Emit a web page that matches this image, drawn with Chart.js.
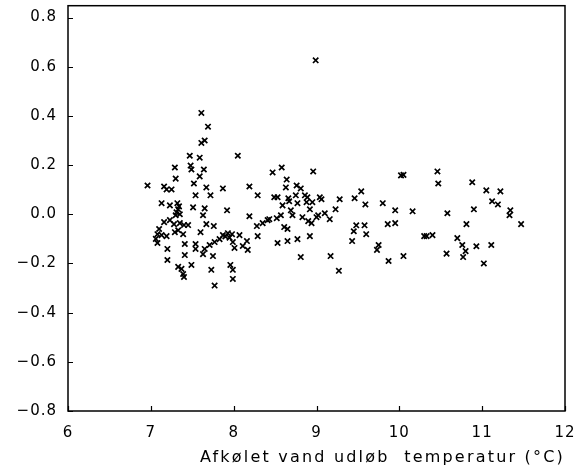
<!DOCTYPE html>
<html>
<head>
<meta charset="utf-8">
<script src="https://cdn.jsdelivr.net/npm/chart.js@4/dist/chart.umd.min.js"></script>
<style>
html,body{margin:0;padding:0;background:#fff;}
#wrap{width:583px;height:475px;}
</style>
</head>
<body>
<div id="wrap"><canvas id="c" width="583" height="475"></canvas></div>
<script>
const xTitle = "Afkølet vand udløb  temperatur (°C)";
const xTickValues = [6, 7, 8, 9, 10, 11, 12];
const yTickValues = [-0.8, -0.6, -0.4, -0.2, 0.0, 0.2, 0.4, 0.6, 0.8];

const tempX = [
  8.99,
  7.61, 7.69, 7.65, 7.61, 7.47, 7.59, 7.29, 7.48, 7.49, 7.64, 7.30, 7.59, 7.52, 6.96, 7.16, 7.19, 7.25, 7.67, 7.54,
  7.13, 7.23, 7.34, 7.31, 7.30, 7.33, 7.35, 7.32, 7.51, 7.65, 7.63, 7.16, 7.23, 7.28, 7.35, 7.40, 7.45, 7.67,
  7.08, 7.13, 7.19, 7.29, 7.33, 7.39, 7.60, 7.08, 7.41, 7.20, 7.54, 7.54, 7.65, 7.41, 7.63, 7.20, 7.33, 7.37,
  7.49, 7.40, 7.39, 7.06, 7.10,
  8.05, 7.72, 7.87, 8.19, 8.29, 7.92, 8.19, 7.76, 8.52, 8.41, 8.35, 8.28, 8.53, 7.83, 7.87, 7.93, 7.98, 7.77,
  7.71, 7.75, 7.99, 8.01, 8.07, 8.16, 8.11, 8.17, 8.29, 7.96, 7.99, 7.99, 7.73, 7.77, 7.90, 7.95,
  8.47, 8.58, 8.96, 8.64, 8.63, 8.76, 8.81, 8.49, 8.53, 8.66, 8.67, 8.75, 8.77, 8.86, 8.89, 8.88, 8.95, 9.04,
  9.06, 9.28, 9.46, 8.59, 8.92, 9.23, 8.69, 8.71, 9.10, 8.57, 8.43, 8.83, 8.90, 8.94, 9.00, 9.02, 9.16, 8.61,
  8.65, 8.65, 8.77, 8.92, 8.81, 9.17, 9.27, 9.48, 9.45, 9.43,
  10.02, 10.05, 10.46, 10.47, 9.54, 9.59, 9.80, 9.95, 10.16, 10.58, 9.58, 9.86, 9.95, 9.60, 10.30, 10.33,
  10.40, 10.70, 9.75, 9.73, 9.87, 10.05, 10.57,
  10.88, 11.05, 11.22, 11.12, 11.19, 11.34, 11.33, 10.90, 11.47, 10.81, 10.76, 10.93, 11.11, 10.80, 10.77, 11.02
];
const residualY = [
  0.626,
  0.412, 0.356, 0.300, 0.290, 0.238, 0.230, 0.190, 0.198, 0.182, 0.182, 0.145, 0.154, 0.125, 0.117, 0.113, 0.101, 0.101, 0.109, 0.077,
  0.045, 0.036, 0.032, 0.008, -0.004, 0.020, 0.000, 0.045, 0.028, 0.024, -0.004, -0.032, -0.024, -0.040, -0.036, -0.044, -0.044, -0.040,
  -0.081, -0.085, -0.089, -0.073, -0.065, -0.081, -0.073, -0.117, -0.121, -0.141, -0.121, -0.141, -0.141, -0.166, -0.162, -0.186, -0.214, -0.222,
  -0.206, -0.255, -0.243, -0.100, -0.060,
  0.238, 0.077, 0.105, 0.113, 0.077, 0.016, -0.008, -0.048, -0.016, -0.024, -0.036, -0.048, -0.117, -0.101, -0.085, -0.077, -0.081, -0.113,
  -0.125, -0.170, -0.113, -0.137, -0.085, -0.109, -0.129, -0.145, -0.089, -0.206, -0.226, -0.263, -0.226, -0.290, -0.090, -0.095,
  0.170, 0.190, 0.174, 0.141, 0.109, 0.117, 0.105, 0.069, 0.069, 0.065, 0.053, 0.077, 0.045, 0.077, 0.069, 0.049, 0.049, 0.069,
  0.061, 0.061, 0.065, 0.036, 0.020, 0.020, 0.016, -0.004, 0.004, -0.004, -0.020, -0.012, -0.028, -0.036, -0.012, -0.004, -0.020, -0.052,
  -0.060, -0.109, -0.101, -0.089, -0.174, -0.170, -0.230, -0.045, -0.069, -0.109,
  0.158, 0.160, 0.174, 0.125, 0.093, 0.040, 0.045, 0.016, 0.012, 0.004, -0.045, -0.040, -0.036, -0.081, -0.089, -0.089,
  -0.085, -0.097, -0.125, -0.145, -0.190, -0.170, -0.160,
  0.130, 0.097, 0.093, 0.053, 0.040, 0.016, -0.004, 0.020, -0.040, -0.040, -0.125, -0.130, -0.125, -0.150, -0.174, -0.200
];

const points = tempX.map((x, i) => ({ x: x, y: residualY[i] }));

const textSpacing = {
  id: 'textSpacing',
  beforeDraw(chart) {
    const ctx = chart.ctx;
    if ('letterSpacing' in ctx) ctx.letterSpacing = '1px';
    const xs = chart.scales.x;
    if (xs && !xs._spacedTitle) {
      const orig = xs.drawTitle.bind(xs);
      xs.drawTitle = function () {
        const prev = ctx.letterSpacing;
        if ('letterSpacing' in ctx) ctx.letterSpacing = '2.2px';
        orig();
        if ('letterSpacing' in ctx) ctx.letterSpacing = prev;
      };
      xs._spacedTitle = true;
    }
  }
};

const frameAndTicks = {
  id: 'frameAndTicks',
  afterDraw(chart) {
    const ctx = chart.ctx;
    const a = chart.chartArea;
    const xs = chart.scales.x, ys = chart.scales.y;
    ctx.save();
    ctx.strokeStyle = '#000';
    ctx.lineWidth = 1.5;
    ctx.strokeRect(a.left, a.top, a.right - a.left, a.bottom - a.top);
    ctx.lineWidth = 1.2;
    ctx.beginPath();
    xTickValues.forEach(v => {
      const px = Math.round(xs.getPixelForValue(v)) + 0.5;
      ctx.moveTo(px, a.bottom);
      ctx.lineTo(px, a.bottom - 5);
    });
    yTickValues.forEach(v => {
      const py = Math.round(ys.getPixelForValue(v)) + 0.5;
      ctx.moveTo(a.left, py);
      ctx.lineTo(a.left + 5, py);
    });
    ctx.stroke();
    ctx.restore();
  }
};

const tickFont = { family: "'DejaVu Sans', sans-serif", size: 15 };

new Chart(document.getElementById('c'), {
  type: 'scatter',
  data: {
    datasets: [{
      data: points,
      pointStyle: 'crossRot',
      pointRadius: 3.8,
      pointBorderWidth: 1.7,
      borderColor: '#000',
      backgroundColor: '#000'
    }]
  },
  options: {
    responsive: false,
    animation: false,
    events: [],
    layout: { padding: { left: 0, right: 18, top: 2, bottom: 8 } },
    plugins: { legend: { display: false }, tooltip: { enabled: false } },
    scales: {
      x: {
        type: 'linear',
        min: 6, max: 12,
        afterBuildTicks(s) { s.ticks = xTickValues.map(v => ({ value: v })); },
        afterFit(s) { s.height = 56; s.paddingLeft = 0; s.paddingRight = 0; },
        grid: { display: false, drawTicks: false },
        border: { display: false },
        ticks: {
          color: '#000', font: tickFont, padding: 13, maxRotation: 0,
          callback: v => String(v)
        },
        title: {
          display: true, text: xTitle, align: 'end', color: '#000',
          font: { family: "'DejaVu Sans', sans-serif", size: 16 },
          padding: { top: 2, bottom: 0 }
        }
      },
      y: {
        type: 'linear',
        min: -0.8, max: 0.848,
        afterBuildTicks(s) { s.ticks = yTickValues.map(v => ({ value: v })); },
        afterFit(s) { s.width = 68; s.paddingTop = 0; s.paddingBottom = 0; },
        grid: { display: false, drawTicks: false },
        border: { display: false },
        ticks: {
          color: '#000', font: tickFont, padding: 11,
          callback: v => Number(v).toFixed(1).replace('-', '\u2212')
        }
      }
    }
  },
  plugins: [textSpacing, frameAndTicks]
});
</script>
</body>
</html>
